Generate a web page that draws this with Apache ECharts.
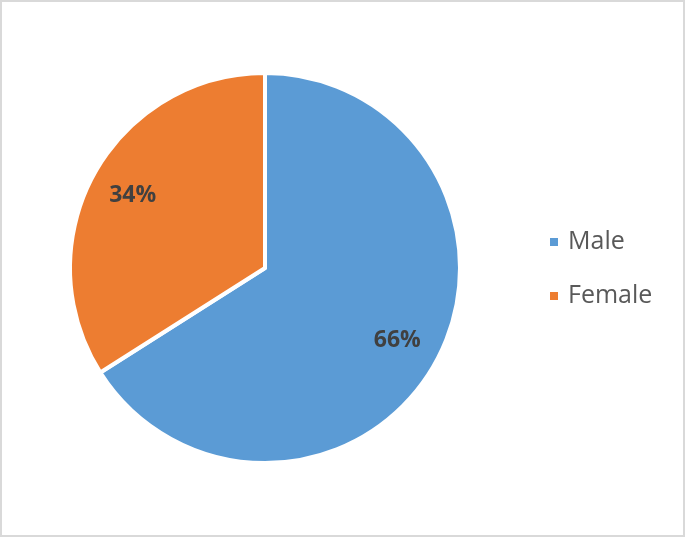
<!DOCTYPE html>
<html>
<head>
<meta charset="utf-8">
<script src="https://cdn.jsdelivr.net/npm/echarts@6/dist/echarts.min.js"></script>
<style>
  html, body { margin: 0; padding: 0; background: #fff; }
  #frame { box-sizing: border-box; width: 685px; height: 537px; border: 2px solid #d9d9d9; }
  #chart { width: 100%; height: 100%; }
</style>
</head>
<body>
<div id="frame"><div id="chart"></div></div>
<script>
// pie data
var categories = ['Male', 'Female'];
var shares = [66, 34];
var colors = ['#5B9BD5', '#ED7D31'];

var pieData = categories.map(function (name, i) {
  return { name: name, value: shares[i], itemStyle: { color: colors[i] } };
});

var chart = echarts.init(document.getElementById('chart'));
chart.setOption({
  animation: false,
  legend: {
    orient: 'vertical',
    left: 541,
    top: 222,
    itemWidth: 10,
    itemHeight: 10,
    itemGap: 28,
    icon: 'rect',
    textStyle: { fontFamily: 'Open Sans', fontSize: 25, lineHeight: 26, color: '#595959', padding: [0, 0, 0, 4] },
    data: categories
  },
  series: [
    {
      type: 'pie',
      center: [263, 266],
      radius: [0, 195],
      startAngle: 90,
      itemStyle: { borderColor: '#fff', borderWidth: 4 },
      label: { show: false },
      labelLine: { show: false },
      emphasis: { disabled: true },
      data: pieData
    },
    {
      // invisible ring just to place the percent labels
      type: 'pie',
      center: [263, 266],
      radius: [144, 152],
      startAngle: 90,
      silent: true,
      itemStyle: { color: 'transparent', borderWidth: 0 },
      label: {
        show: true,
        position: 'inside',
        formatter: '{c}%',
        fontFamily: 'Open Sans',
        fontWeight: 'bold',
        fontSize: 23,
        color: '#404040'
      },
      labelLine: { show: false },
      data: categories.map(function (name, i) { return { name: name, value: shares[i] }; })
    }
  ]
});
</script>
</body>
</html>
